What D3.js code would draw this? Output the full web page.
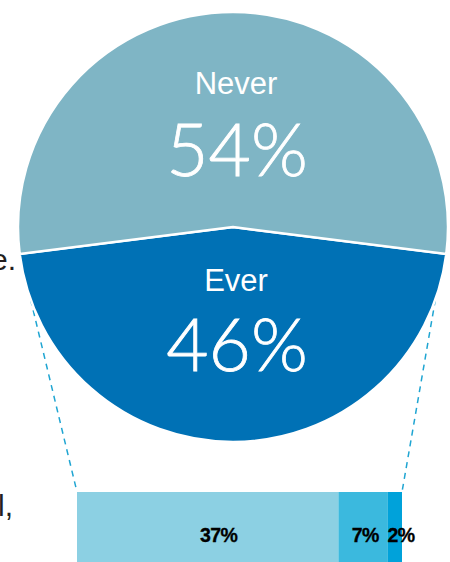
<!DOCTYPE html>
<html>
<head>
<meta charset="utf-8">
<script src="https://d3js.org/d3.v7.min.js"></script>
<style>
  body { margin: 0; background: #fff; }
  svg { display: block; }
</style>
</head>
<body>
<svg id="chart"></svg>
<script>
// pie: ever vs never
const pieLabels = ['Ever', 'Never'];
const pieValues = [46, 54];
const pieColors = ['#0071b5', '#7fb5c5'];

// breakdown of "ever"
const barValues = [37, 7, 2];
const barLabels = ['37%', '7%', '2%'];
const barColors = ['#8cd0e3', '#3bb9de', '#00a2da'];

const width = 450, height = 562;
const svg = d3.select('#chart')
    .attr('width', width)
    .attr('height', height);

const cx = 233, cy = 227, radius = 215;

// clipped text fragments on the left edge
svg.append('text')
    .attr('x', 16).attr('y', 270)
    .attr('text-anchor', 'end')
    .attr('font-family', 'Liberation Sans, Arial, sans-serif')
    .attr('font-size', 30)
    .attr('fill', '#231f20')
    .text('e.');
svg.append('text')
    .attr('x', 13).attr('y', 516)
    .attr('text-anchor', 'end')
    .attr('font-family', 'Liberation Sans, Arial, sans-serif')
    .attr('font-size', 30)
    .attr('fill', '#231f20')
    .text('l,');

// bar scale
const barTop = 492, barH = 80;
const x = d3.scaleLinear()
    .domain([0, d3.sum(barValues)])
    .range([77, 402]);

let cum = 0;
const segs = barValues.map((v, i) => {
    const s = {v: v, x0: cum, x1: cum + v, label: barLabels[i], color: barColors[i]};
    cum += v;
    return s;
});

// dashed connectors (behind pie)
const connAngle = 1.915; // radians from 12 o'clock
const conns = [
    {a: 2 * Math.PI - connAngle, tx: x(0)},
    {a: connAngle, tx: x(d3.sum(barValues))}
];
svg.selectAll('.conn')
    .data(conns)
    .enter().append('line')
    .attr('class', 'conn')
    .attr('x1', d => cx + radius * Math.sin(d.a))
    .attr('y1', d => cy - radius * Math.cos(d.a))
    .attr('x2', d => d.tx)
    .attr('y2', barTop)
    .attr('stroke', '#1fa5d2')
    .attr('stroke-width', 1.5)
    .attr('stroke-dasharray', '6,5');

// pie
const pie = d3.pie()
    .sort(null)
    .startAngle(Math.PI * (1 - pieValues[0] / 100))
    .endAngle(Math.PI * (3 - pieValues[0] / 100));
const arc = d3.arc().innerRadius(0).outerRadius(radius);

const g = svg.append('g')
    .attr('transform', `translate(${cx},${cy})`);

g.selectAll('path')
    .data(pie(pieValues))
    .enter().append('path')
    .attr('d', arc)
    .attr('fill', (d, i) => pieColors[i])
    .attr('stroke', '#fff')
    .attr('stroke-width', 2.5)
    .attr('stroke-linejoin', 'miter');

// pie labels
const labelPos = [{name: 64, pct: 144}, {name: -133, pct: -51}];
pieLabels.forEach((lab, i) => {
    g.append('text')
        .attr('x', 3).attr('y', labelPos[i].name)
        .attr('text-anchor', 'middle')
        .attr('font-family', 'Liberation Sans, Arial, sans-serif')
        .attr('font-size', 31)
        .attr('fill', '#fff')
        .text(lab);
    g.append('text')
        .attr('x', 4).attr('y', labelPos[i].pct)
        .attr('text-anchor', 'middle')
        .attr('font-family', 'Lato, Roboto, sans-serif')
        .attr('font-weight', 300)
        .attr('font-size', 73)
        .attr('fill', '#fff')
        .attr('stroke', '#fff')
        .attr('stroke-width', 0.8)
        .text(pieValues[i] + '%');
});

// stacked bar
svg.selectAll('.seg')
    .data(segs)
    .enter().append('rect')
    .attr('class', 'seg')
    .attr('x', d => x(d.x0))
    .attr('y', barTop)
    .attr('width', d => x(d.x1) - x(d.x0))
    .attr('height', barH)
    .attr('fill', d => d.color);

const nudge = [11, 2, 6];
svg.selectAll('.seglab')
    .data(segs)
    .enter().append('text')
    .attr('class', 'seglab')
    .attr('x', (d, i) => x((d.x0 + d.x1) / 2) + nudge[i])
    .attr('y', 542)
    .attr('text-anchor', 'middle')
    .attr('font-family', 'Liberation Sans, Arial, sans-serif')
    .attr('font-weight', 'bold')
    .attr('font-size', 19.5)
    .attr('letter-spacing', -0.6)
    .attr('fill', '#000')
    .attr('stroke', '#000')
    .attr('stroke-width', 0.3)
    .text(d => d.label);
</script>
</body>
</html>
